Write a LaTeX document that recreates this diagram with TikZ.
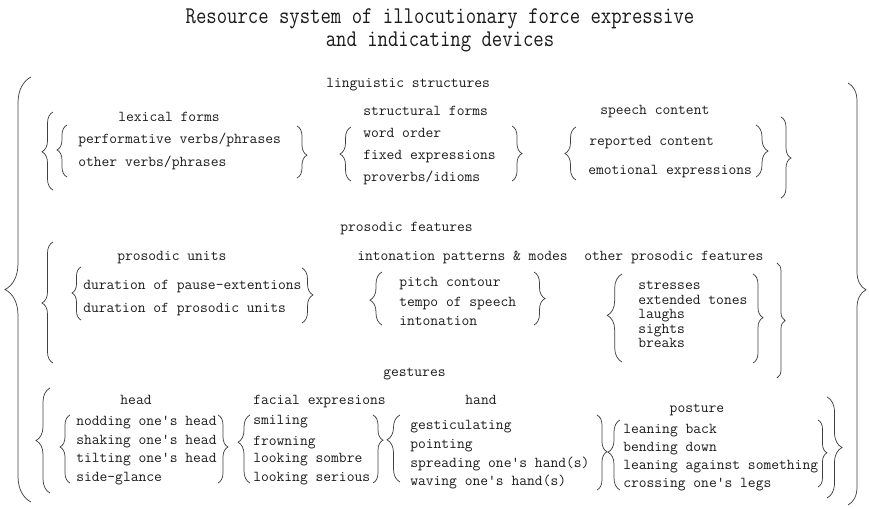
\documentclass[tikz,border=0pt]{standalone}
\usepackage{fontspec}
\usetikzlibrary{decorations.pathreplacing}

\definecolor{ink}{HTML}{1A1A1A}
\definecolor{brc}{HTML}{404040}

\tikzset{
  lbl/.style={font=\ttfamily\fontsize{11.35pt}{13pt}\selectfont, text=ink, inner sep=0pt, anchor=base west},
  lblc/.style={lbl, anchor=base},
  ttl/.style={font=\ttfamily\fontsize{18pt}{21pt}\selectfont, text=ink, inner sep=0pt, anchor=base},
  br/.style 2 args={draw=brc, line width=0.55pt, decorate, decoration={brace, amplitude=#1, aspect=#2}}
}

\begin{document}
\begin{tikzpicture}[x=0.75pt, y=-0.75pt]
  \useasboundingbox (0,0) rectangle (869,508);

  % title
  \node[ttl] (t1) at (440,23) {\scalebox{0.84}[1]{Resource system of illocutionary force expressive}};
  \node[ttl] (t2) at (440,46) {\scalebox{0.84}[1]{and indicating devices}};

  % outer braces
  \draw[br={19.5pt}{0.5}] (31,502) -- (31,77);
  \draw[br={13.5pt}{0.49}] (848,83) -- (848,505);

  % linguistic structures
  \node[lbl] (ling) at (326,87) {linguistic structures};
  \draw[br={8.25pt}{0.49}] (53,190) -- (53,112);
  \draw[br={7.5pt}{0.506}] (781,117) -- (781,198);

  % lexical forms
  \node[lblc] (lex) at (169,121) {lexical forms};
  \draw[br={7.5pt}{0.52}] (67,177) -- (67,125);
  \node[lbl] (perf) at (78,143) {performative verbs/phrases};
  \node[lbl] (othv) at (78,166) {other verbs/phrases};
  \draw[br={7.5pt}{0.56}] (297,126) -- (297,178);

  % structural forms
  \node[lbl] (struct) at (363,115) {structural forms};
  \draw[br={8.25pt}{0.5}] (351,181) -- (351,127);
  \node[lbl] (word) at (363,137) {word order};
  \node[lbl] (fixed) at (363,159) {fixed expressions};
  \node[lbl] (prov) at (363,181) {proverbs/idioms};
  \draw[br={7.5pt}{0.5}] (512,126) -- (512,181);

  % speech content
  \node[lbl] (speech) at (600,114) {speech content};
  \draw[br={8.25pt}{0.5}] (576,180) -- (576,127);
  \node[lbl] (rep) at (589,145) {reported content};
  \node[lbl] (emo) at (588,174) {emotional expressions};
  \draw[br={9pt}{0.5}] (756,125) -- (756,177);

  % prosodic features
  \node[lbl] (pros) at (340,231) {prosodic features};
  \draw[br={8.25pt}{0.496}] (53,363) -- (53,242);
  \draw[br={6pt}{0.5}] (777,263) -- (777,378);

  % prosodic units
  \node[lbl] (punits) at (117,260) {prosodic units};
  \draw[br={6.75pt}{0.51}] (81,320) -- (81,267);
  \node[lbl] (dur1) at (83,289) {duration of pause-extentions};
  \node[lbl] (dur2) at (83,312) {duration of prosodic units};
  \draw[br={8.25pt}{0.49}] (302,268) -- (302,323);

  % intonation
  \node[lbl] (inton) at (357,260) {intonation patterns \& modes};
  \draw[br={9pt}{0.47}] (382,325) -- (382,272);
  \node[lbl] (pitch) at (399,286) {pitch contour};
  \node[lbl] (tempo) at (399,306) {tempo of speech};
  \node[lbl] (into) at (399,325) {intonation};
  \draw[br={8.25pt}{0.5}] (534,272) -- (534,325);

  % other prosodic features
  \node[lbl] (othp) at (584,260) {other prosodic features};
  \draw[br={11pt}{0.53}] (622,362) -- (622,274);
  \node[lbl] (stress) at (638,289) {stresses};
  \node[lbl] (tones) at (638,304) {extended tones};
  \node[lbl] (laugh) at (638,318) {laughs};
  \node[lbl] (sight) at (638,333) {sights};
  \node[lbl] (brk) at (638,347) {breaks};
  \draw[br={7.5pt}{0.49}] (753,274) -- (753,363);

  % gestures
  \node[lbl] (gest) at (383,376) {gestures};
  \draw[br={10.5pt}{0.5}] (50,493) -- (50,388);
  \draw[br={11.25pt}{0.5}] (827,397) -- (827,498);

  % head
  \node[lblc] (head) at (136,404) {head};
  \draw[br={7.5pt}{0.53}] (70,483) -- (70,415);
  \node[lbl] (nod) at (76,425) {nodding one's head};
  \node[lbl] (shake) at (76,444) {shaking one's head};
  \node[lbl] (tilt) at (76,462) {tilting one's head};
  \node[lbl] (side) at (76,481) {side-glance};
  \draw[br={7.5pt}{0.47}] (218,415) -- (218,483);

  % facial expressions
  \node[lbl] (face) at (253,404) {facial expresions};
  \draw[br={9pt}{0.6}] (250,483) -- (250,415);
  \node[lbl] (smile) at (253,424) {smiling};
  \node[lbl] (frown) at (253,445) {frowning};
  \node[lbl] (sombre) at (253,462) {looking sombre};
  \node[lbl] (serious) at (253,481) {looking serious};
  \draw[br={7.5pt}{0.37}] (373,415) -- (373,483);

  % hand
  \node[lblc] (hand) at (481,404) {hand};
  \draw[br={9.75pt}{0.63}] (400,482) -- (400,415);
  \node[lbl] (gesti) at (410,429) {gesticulating};
  \node[lbl] (point) at (410,448) {pointing};
  \node[lbl] (spread) at (410,467) {spreading one's hand(s)};
  \node[lbl] (wave) at (410,485) {waving one's hand(s)};
  \draw[br={7.5pt}{0.49}] (597,415) -- (597,490);

  % posture
  \node[lblc] (post) at (697,412) {posture};
  \draw[br={9pt}{0.54}] (620,490) -- (620,420);
  \node[lbl] (back) at (623,433) {leaning back};
  \node[lbl] (bend) at (623,451) {bending down};
  \node[lbl] (against) at (623,469) {leaning against something};
  \node[lbl] (legs) at (623,487) {crossing one's legs};
  \draw[br={6.75pt}{0.49}] (818,420) -- (818,487);
\end{tikzpicture}
\end{document}
